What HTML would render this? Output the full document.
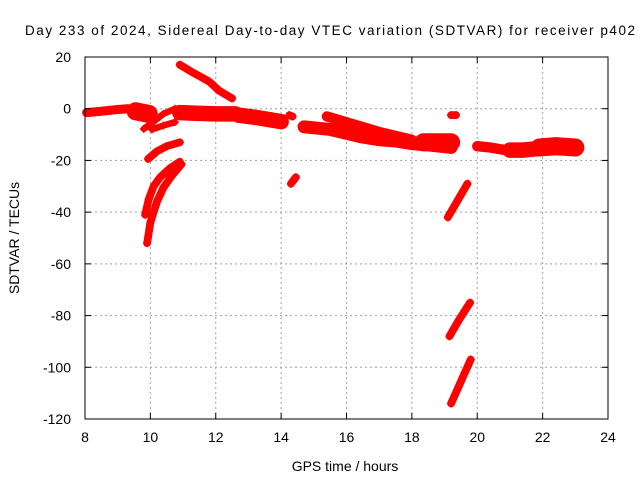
<!DOCTYPE html>
<html><head><meta charset="utf-8"><style>
body{margin:0;background:#fff}
svg{display:block;font-family:"Liberation Sans",Arial,sans-serif}
</style></head><body>
<svg id="chart" width="640" height="480" xmlns="http://www.w3.org/2000/svg">
<rect width="640" height="480" fill="#fff"/>
<text x="330" y="35" text-anchor="middle" font-size="13.5" textLength="610">Day 233 of 2024, Sidereal Day-to-day VTEC variation (SDTVAR) for receiver p402</text>
<g id="grid"></g><g id="data"></g><g id="axes"></g>
<text x="345" y="471" text-anchor="middle" font-size="14">GPS time / hours</text>
<text transform="translate(19,238) rotate(-90)" text-anchor="middle" font-size="14">SDTVAR / TECUs</text>
</svg>
<script>
const xTicks=[8,10,12,14,16,18,20,22,24];
const yTicks=[20,0,-20,-40,-60,-80,-100,-120];
// each track: thickness (TECU) and [hour, value] points
const trackWidths=[3.5,7,2.5,2.5,3,3,3,3,6,6,3,3,5,4,7,3,4,6,7,3,3,3];
const tracks=[
 [[8.05,-1.5],[8.5,-1],[9.0,-0.3],[9.3,0]],
 [[9.55,-1],[9.75,-1.5],[9.95,-2]],
 [[9.8,-7.8],[10.1,-5],[10.4,-2],[10.75,0]],
 [[10.05,-8],[10.4,-6.5],[10.75,-5.2]],
 [[9.93,-19.4],[10.2,-16.5],[10.5,-14.5],[10.9,-13]],
 [[9.84,-41],[9.95,-35],[10.1,-30],[10.3,-26.5],[10.6,-23],[10.9,-20.5]],
 [[9.9,-52],[10.0,-44],[10.2,-36],[10.4,-30.5],[10.65,-26],[10.95,-21.5]],
 [[10.9,17],[11.3,14],[11.8,10.5],[12.1,7],[12.5,4]],
 [[10.9,-1.5],[11.5,-1.8],[12.0,-2],[12.6,-2]],
 [[12.7,-2.5],[13.3,-3.5],[14.0,-5]],
 [[14.25,-2.5],[14.35,-3]],
 [[14.3,-29],[14.45,-26.5]],
 [[14.7,-7],[15.5,-8],[16.0,-9.5],[16.5,-11],[17.0,-12],[17.5,-12.5],[18.0,-13.5],[18.5,-14],[19.2,-15]],
 [[15.4,-3],[16.2,-6],[17.0,-9],[18.0,-12]],
 [[18.35,-13],[18.8,-13],[19.2,-13]],
 [[19.2,-2.5],[19.35,-2.5]],
 [[20.0,-14.5],[20.4,-15],[20.85,-16]],
 [[21.0,-16],[21.4,-16],[21.8,-15.5]],
 [[21.9,-15],[22.4,-14.5],[23.0,-15]],
 [[19.1,-42],[19.4,-35.5],[19.7,-29]],
 [[19.15,-88],[19.45,-81.5],[19.78,-75]],
 [[19.2,-114],[19.5,-105.5],[19.8,-97]]
];
const X=t=>85+(t-8)*(523/16), Y=v=>57+(20-v)*(362/140);
const ns="http://www.w3.org/2000/svg";
function mk(tag,attrs,parent){const e=document.createElementNS(ns,tag);for(const k in attrs)e.setAttribute(k,attrs[k]);parent.appendChild(e);return e;}
const grid=document.getElementById('grid'),axes=document.getElementById('axes'),data=document.getElementById('data');
xTicks.forEach(t=>{
 if(t>8&&t<24){const g=mk('line',{x1:X(t),x2:X(t),y1:57,y2:419,stroke:'#a0a0a0','stroke-dasharray':'2,3'},grid);
 
 }
 mk('line',{x1:X(t),x2:X(t),y1:419,y2:413,stroke:'#000'},axes);
 mk('line',{x1:X(t),x2:X(t),y1:57,y2:63,stroke:'#000'},axes);
 const l=mk('text',{x:X(t),y:442,'text-anchor':'middle','font-size':14},axes);l.textContent=t;
 
 
});
yTicks.forEach(v=>{
 if(v<20&&v>-120){const g=mk('line',{x1:85,x2:608,y1:Y(v),y2:Y(v),stroke:'#a0a0a0','stroke-dasharray':'2,3'},grid);
 
 }
 mk('line',{x1:85,x2:91,y1:Y(v),y2:Y(v),stroke:'#000'},axes);
 mk('line',{x1:602,x2:608,y1:Y(v),y2:Y(v),stroke:'#000'},axes);
 const l=mk('text',{x:71,y:Y(v)+5,'text-anchor':'end','font-size':14},axes);l.textContent=v;
 
 
});
const frame=mk('rect',{x:85,y:57,width:523,height:362,fill:'none',stroke:'#000'},axes);


tracks.forEach((tr,i)=>{
 const w=trackWidths[i]*362/140;
 const g=mk('g',{},data);
 
 
 mk('polyline',{points:tr.map(p=>X(p[0])+','+Y(p[1])).join(' '),fill:'none',stroke:'#f00','stroke-width':w,'stroke-linecap':'round','stroke-linejoin':'round'},g);
 tr.forEach(p=>{
  const x=X(p[0]),y=Y(p[1]);
  mk('path',{d:`M${x-4},${y}h8M${x},${y-4}v8`,stroke:'#f00','stroke-width':1.5},g);
 });
});
</script>
</body></html>
